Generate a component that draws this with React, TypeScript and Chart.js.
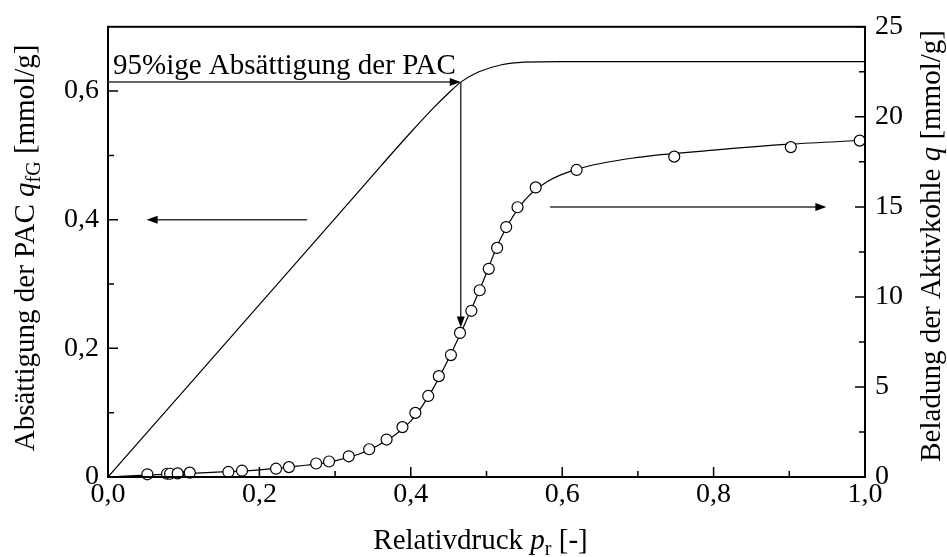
import React, { useEffect, useRef } from "react";
import { Chart, registerables } from "chart.js";

Chart.register(...registerables);

// PAC saturation curve (left axis)
const pacX = [0, 0.1, 0.2, 0.3, 0.36, 0.4, 0.43, 0.45, 0.466, 0.49, 0.52, 0.55, 0.6, 0.8, 1.0];
const pacY = [0, 0.134, 0.268, 0.402, 0.483, 0.536, 0.574, 0.597, 0.614, 0.630, 0.641, 0.645, 0.646, 0.646, 0.646];

// Measured loading of activated carbon (right axis)
const measX = [0.052, 0.078, 0.082, 0.092, 0.108, 0.159, 0.177, 0.222, 0.239, 0.275, 0.292, 0.318, 0.345, 0.368, 0.389, 0.406, 0.423, 0.437, 0.453, 0.465, 0.48, 0.491, 0.503, 0.514, 0.526, 0.541, 0.565, 0.619, 0.748, 0.902, 0.993];
const measY = [0.15, 0.18, 0.18, 0.2, 0.24, 0.28, 0.35, 0.46, 0.55, 0.75, 0.86, 1.15, 1.54, 2.08, 2.77, 3.56, 4.5, 5.6, 6.77, 8.0, 9.23, 10.37, 11.56, 12.72, 13.88, 14.98, 16.08, 17.05, 17.79, 18.32, 18.68];

// Fitted isotherm (right axis)
const fitX = [0, 0.05, 0.1, 0.15, 0.2, 0.25, 0.3, 0.35, 0.4, 0.43, 0.46, 0.49, 0.52, 0.55, 0.58, 0.62, 0.7, 0.8, 0.9, 1.0];
const fitY = [0, 0.1, 0.19, 0.28, 0.4, 0.6, 0.9, 1.6, 3.1, 4.95, 7.45, 10.3, 13.35, 15.35, 16.4, 17.1, 17.75, 18.15, 18.48, 18.7];

// Ticks
const xTicks = [0, 0.2, 0.4, 0.6, 0.8, 1.0];
const xMinor = [0.1, 0.3, 0.5, 0.7, 0.9];
const yLTicks = [0, 0.2, 0.4, 0.6];
const yLMinor = [0.1, 0.3, 0.5];
const yRTicks = [0, 5, 10, 15, 20, 25];
const yRMinor = [2.5, 7.5, 12.5, 17.5, 22.5];

// Annotations (data coordinates)
const saturationLevel = 0.614;
const saturationX = 0.466;
const verticalArrowEnd = 8.3; // right axis
const leftArrow = { from: 0.263, to: 0.051, y: 0.4 };
const rightArrow = { from: 0.584, to: 0.949, y: 15 };
const annotationText = "95%ige Absättigung der PAC";

const FONT = "'Liberation Serif', 'Times New Roman', serif";
const FS = 29;
const TICK_FS = 28;
const SUB = 20;

type Seg = { t: string; i?: boolean; s?: boolean };

function segFont(s: Seg) {
  return `${s.i ? "italic " : ""}${s.s ? SUB : FS}px ${FONT}`;
}

function richWidth(ctx: CanvasRenderingContext2D, segs: Seg[]) {
  let w = 0;
  for (const s of segs) {
    ctx.font = segFont(s);
    w += ctx.measureText(s.t).width;
  }
  return w;
}

function drawRich(ctx: CanvasRenderingContext2D, segs: Seg[], x: number, y: number) {
  let cx = x;
  for (const s of segs) {
    ctx.font = segFont(s);
    ctx.fillText(s.t, cx, y + (s.s ? 6 : 0));
    cx += ctx.measureText(s.t).width;
  }
}

function arrow(ctx: CanvasRenderingContext2D, x1: number, y1: number, x2: number, y2: number) {
  const ang = Math.atan2(y2 - y1, x2 - x1);
  const hl = 11, hw = 4;
  ctx.save();
  ctx.strokeStyle = "#333";
  ctx.lineWidth = 1.5;
  ctx.beginPath();
  ctx.moveTo(x1, y1);
  ctx.lineTo(x2 - Math.cos(ang) * hl * 0.8, y2 - Math.sin(ang) * hl * 0.8);
  ctx.stroke();
  ctx.fillStyle = "#000";
  ctx.beginPath();
  ctx.moveTo(x2, y2);
  ctx.lineTo(x2 - Math.cos(ang) * hl - Math.sin(ang) * hw, y2 - Math.sin(ang) * hl + Math.cos(ang) * hw);
  ctx.lineTo(x2 - Math.cos(ang) * hl + Math.sin(ang) * hw, y2 - Math.sin(ang) * hl - Math.cos(ang) * hw);
  ctx.closePath();
  ctx.fill();
  ctx.restore();
}

const decorPlugin = {
  id: "decor",
  afterDraw(chart: any) {
    const ctx: CanvasRenderingContext2D = chart.ctx;
    const { left, right, top, bottom } = chart.chartArea;
    const sx = chart.scales.x;
    const sl = chart.scales.yL;
    const sr = chart.scales.yR;
    ctx.save();
    ctx.strokeStyle = "#000";
    ctx.lineWidth = 1.5;
    ctx.beginPath();
    const major = 10, minor = 6;
    xTicks.forEach((v) => { const p = sx.getPixelForValue(v); ctx.moveTo(p, bottom); ctx.lineTo(p, bottom - major); });
    xMinor.forEach((v) => { const p = sx.getPixelForValue(v); ctx.moveTo(p, bottom); ctx.lineTo(p, bottom - minor); });
    yLTicks.forEach((v) => { const p = sl.getPixelForValue(v); ctx.moveTo(left, p); ctx.lineTo(left + major, p); });
    yLMinor.forEach((v) => { const p = sl.getPixelForValue(v); ctx.moveTo(left, p); ctx.lineTo(left + minor, p); });
    yRTicks.forEach((v) => { const p = sr.getPixelForValue(v); ctx.moveTo(right, p); ctx.lineTo(right - major, p); });
    yRMinor.forEach((v) => { const p = sr.getPixelForValue(v); ctx.moveTo(right, p); ctx.lineTo(right - minor, p); });
    ctx.stroke();
    ctx.lineWidth = 2;
    ctx.strokeRect(left, top, right - left, bottom - top);
    ctx.restore();

    const yS = sl.getPixelForValue(saturationLevel);
    const xS = sx.getPixelForValue(saturationX);
    arrow(ctx, left, yS, xS, yS);
    arrow(ctx, xS, yS, xS, sr.getPixelForValue(verticalArrowEnd));
    const yla = sl.getPixelForValue(leftArrow.y);
    arrow(ctx, sx.getPixelForValue(leftArrow.from), yla, sx.getPixelForValue(leftArrow.to), yla);
    const yra = sr.getPixelForValue(rightArrow.y);
    arrow(ctx, sx.getPixelForValue(rightArrow.from), yra, sx.getPixelForValue(rightArrow.to), yra);

    ctx.save();
    ctx.fillStyle = "#000";
    ctx.textBaseline = "alphabetic";
    ctx.textAlign = "left";
    ctx.font = `${FS}px ${FONT}`;
    ctx.fillText(annotationText, left + 5, yS - 8);

    const xt: Seg[] = [{ t: "Relativdruck " }, { t: "p", i: true }, { t: "r", s: true }, { t: " [-]" }];
    const wx = richWidth(ctx, xt);
    drawRich(ctx, xt, (left + right) / 2 - 6 - wx / 2, 549);

    const cy = (top + bottom) / 2;
    const lt: Seg[] = [{ t: "Absättigung der PAC " }, { t: "q", i: true }, { t: "fG", s: true }, { t: " [mmol/g]" }];
    const wl = richWidth(ctx, lt);
    ctx.save();
    ctx.translate(34, cy - 4);
    ctx.rotate(-Math.PI / 2);
    drawRich(ctx, lt, -wl / 2, 0);
    ctx.restore();

    const rt: Seg[] = [{ t: "Beladung der Aktivkohle " }, { t: "q", i: true }, { t: " [mmol/g]" }];
    const wr = richWidth(ctx, rt);
    ctx.save();
    ctx.translate(940, cy - 6);
    ctx.rotate(-Math.PI / 2);
    drawRich(ctx, rt, -wr / 2, 0);
    ctx.restore();
    ctx.restore();
  },
};

const comma = (v: number, d: number) => v.toFixed(d).replace(".", ",");

export default function App() {
  const ref = useRef<HTMLCanvasElement | null>(null);
  useEffect(() => {
    if (!ref.current) return;
    const tickFont = { family: FONT, size: TICK_FS };
    const chart = new Chart(ref.current, {
      type: "scatter",
      data: {
        datasets: [
          {
            data: measX.map((x, i) => ({ x, y: measY[i] })),
            yAxisID: "yR",
            showLine: false,
            pointRadius: 5.5,
            pointBackgroundColor: "#fff",
            pointBorderColor: "#000",
            pointBorderWidth: 1.2,
            clip: false as any,
          },
          {
            data: fitX.map((x, i) => ({ x, y: fitY[i] })),
            yAxisID: "yR",
            showLine: true,
            pointRadius: 0,
            borderColor: "#000",
            borderWidth: 1.2,
            cubicInterpolationMode: "monotone",
          },
          {
            data: pacX.map((x, i) => ({ x, y: pacY[i] })),
            yAxisID: "yL",
            showLine: true,
            pointRadius: 0,
            borderColor: "#000",
            borderWidth: 1.2,
            cubicInterpolationMode: "monotone",
          },
        ],
      },
      options: {
        animation: false,
        responsive: false,
        layout: { padding: { top: 23, left: 0, right: 0, bottom: 0 } },
        plugins: { legend: { display: false }, tooltip: { enabled: false } },
        scales: {
          x: {
            type: "linear",
            min: 0,
            max: 1,
            grid: { display: false, drawTicks: false },
            border: { display: false },
            afterBuildTicks: (s: any) => { s.ticks = xTicks.map((v) => ({ value: v })); },
            afterFit: (s: any) => { s.height = 80; },
            ticks: { font: tickFont, color: "#000", padding: 1, maxRotation: 0, callback: (v: any) => comma(Number(v), 1) },
          },
          yL: {
            type: "linear",
            position: "left",
            min: 0,
            max: 0.7,
            grid: { display: false, drawTicks: false },
            border: { display: false },
            afterBuildTicks: (s: any) => { s.ticks = yLTicks.map((v) => ({ value: v })); },
            afterFit: (s: any) => { s.width = 108; },
            ticks: { font: tickFont, color: "#000", padding: 9, callback: (v: any) => (Number(v) === 0 ? "0" : comma(Number(v), 1)) },
          },
          yR: {
            type: "linear",
            position: "right",
            min: 0,
            max: 25,
            grid: { display: false, drawTicks: false },
            border: { display: false },
            afterBuildTicks: (s: any) => { s.ticks = yRTicks.map((v) => ({ value: v })); },
            afterFit: (s: any) => { s.width = 82; },
            ticks: { font: tickFont, color: "#000", padding: 10, callback: (v: any) => String(v) },
          },
        },
      } as any,
      plugins: [decorPlugin],
    });
    return () => chart.destroy();
  }, []);
  return (
    <div style={{ position: "absolute", left: 0, top: 0, width: 947, height: 557, background: "#fff" }}>
      <canvas ref={ref} width={947} height={557} style={{ display: "block", width: 947, height: 557 }} />
    </div>
  );
}
